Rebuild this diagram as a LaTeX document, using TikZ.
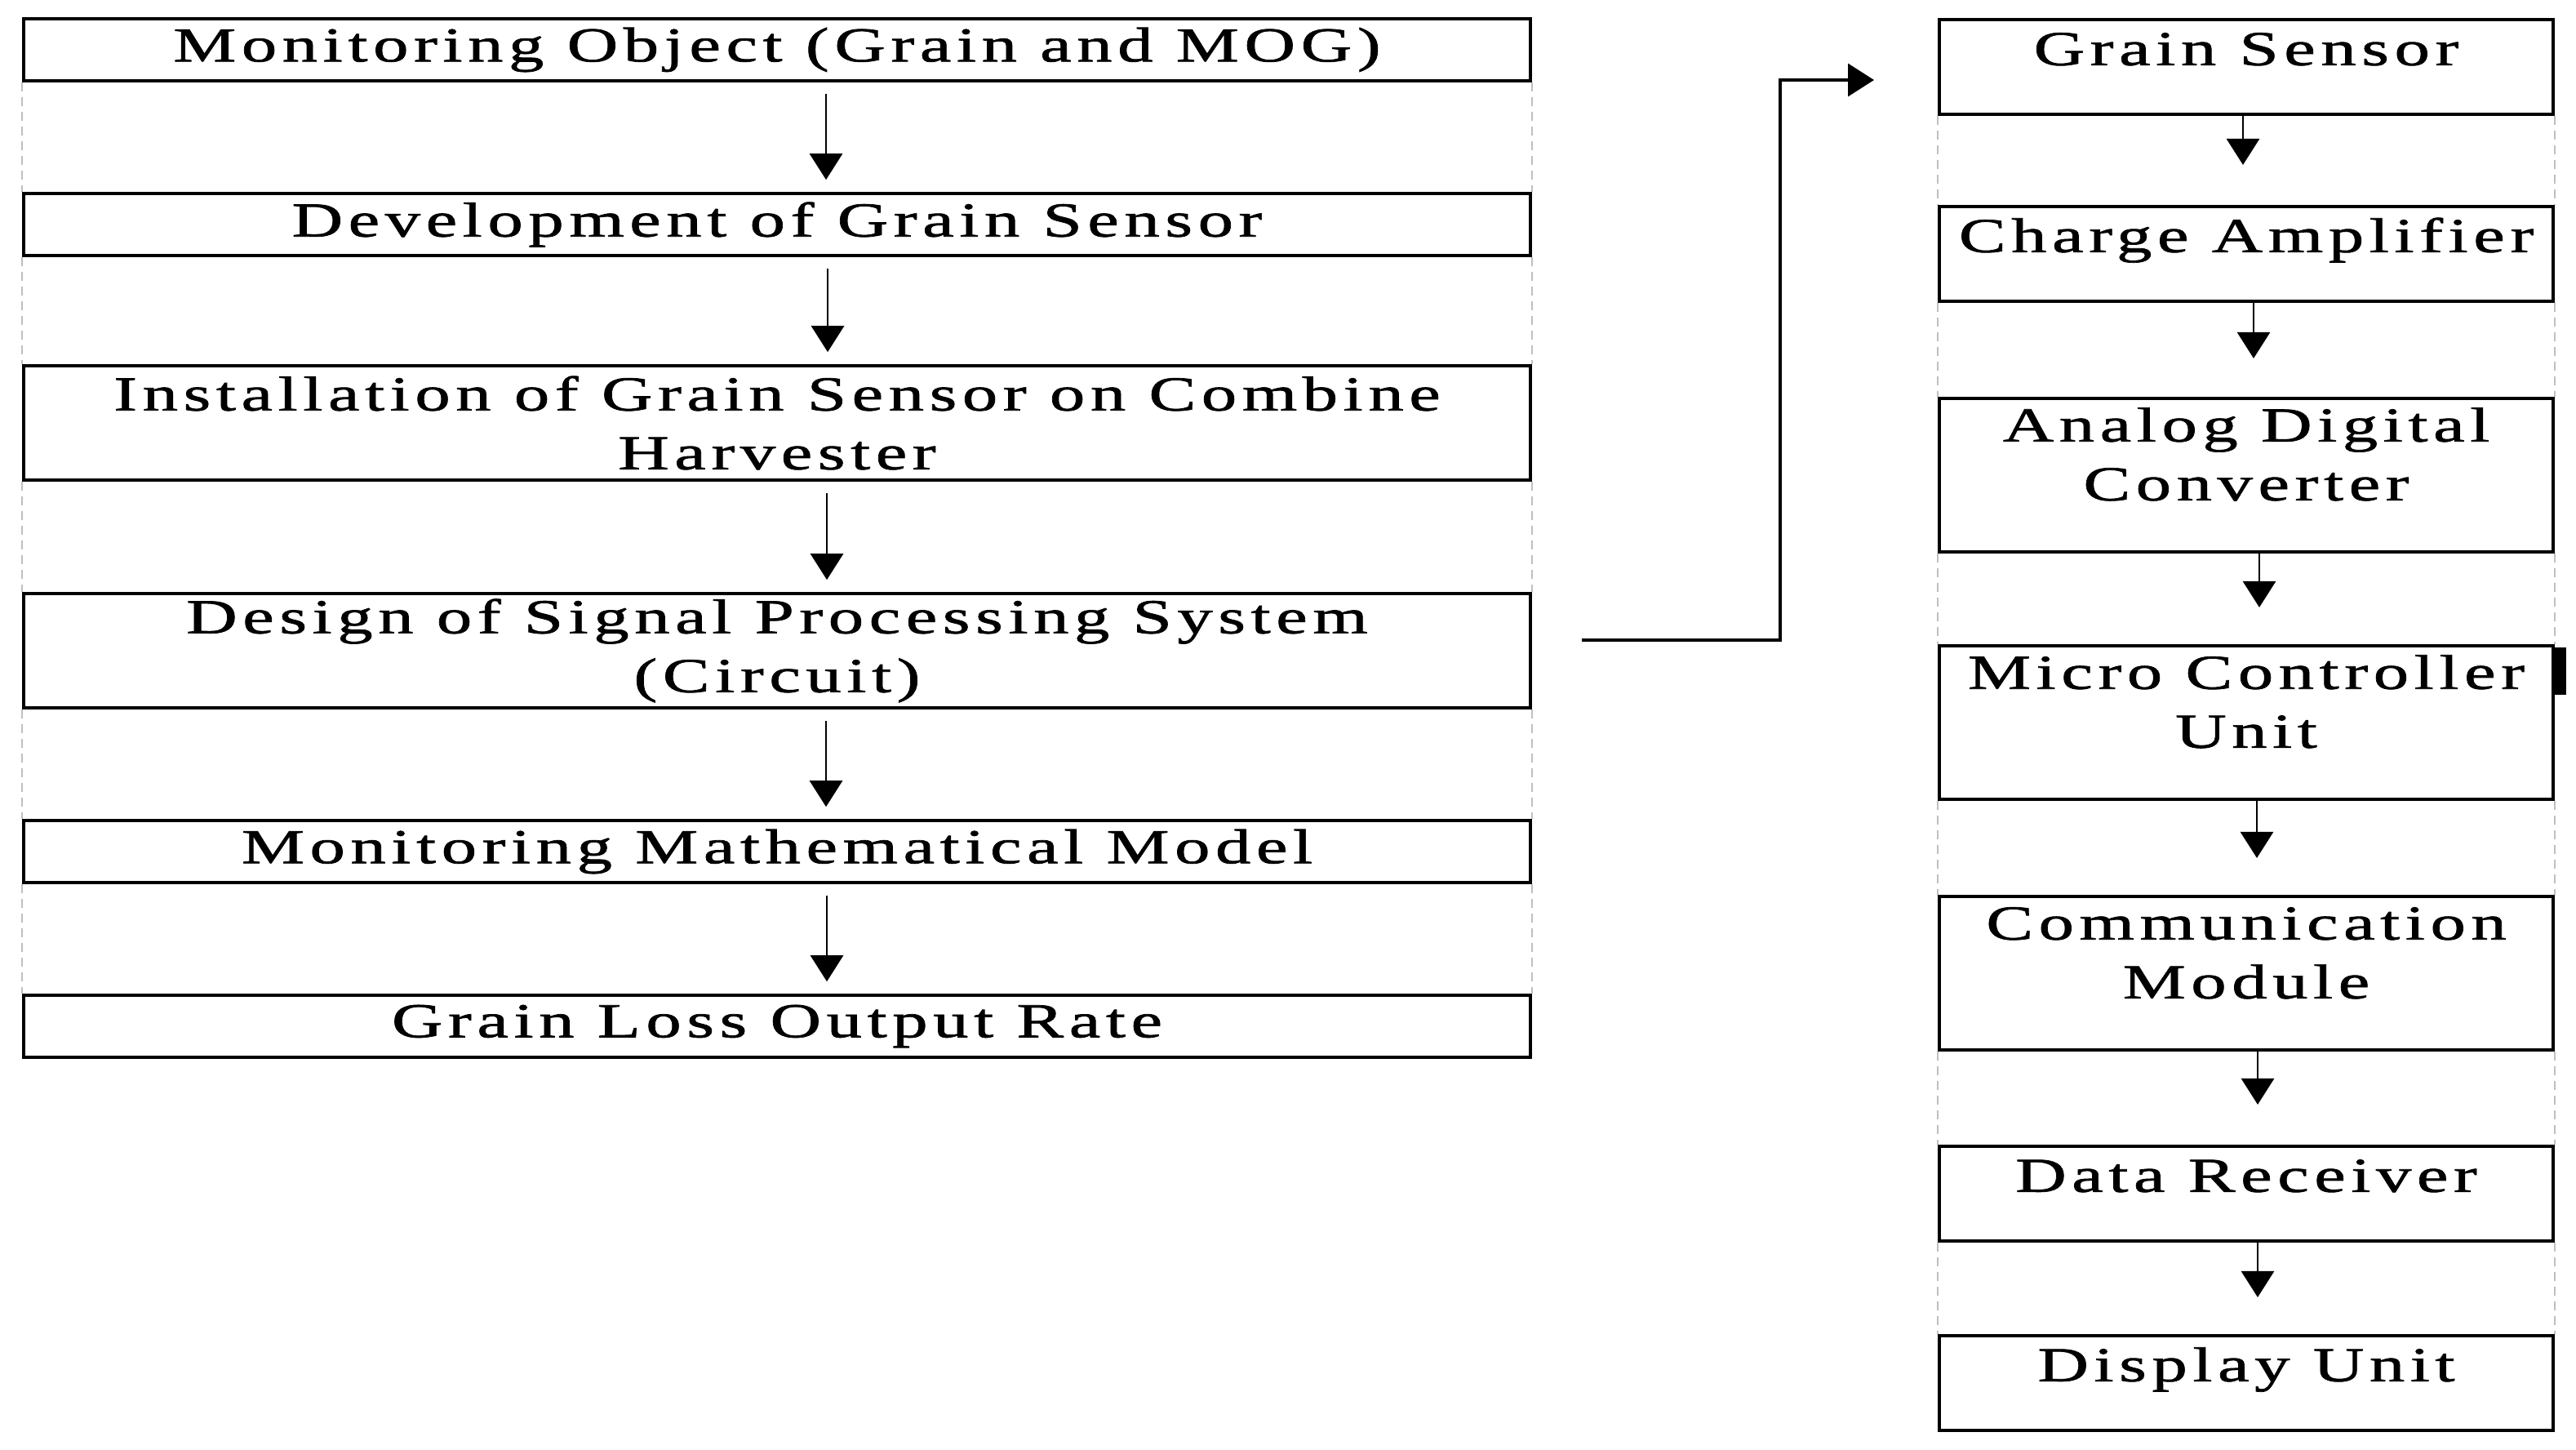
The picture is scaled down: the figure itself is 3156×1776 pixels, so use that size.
\documentclass[tikz,border=0pt]{standalone}
\usepackage{fontspec}
\setmainfont{Liberation Serif}[FakeStretch=1.45,LetterSpace=11,FakeBold=1.2]
\usetikzlibrary{arrows.meta}

\begin{document}
\begin{tikzpicture}[x=0.01cm,y=-0.01cm,line width=0.8pt,
>={Triangle[length=0.32cm,width=0.4cm]},
font=\fontsize{17}{20.5}\selectfont,
stage/.style={draw,rectangle,line width=1pt,minimum width=18.45cm,minimum height=0.76cm,inner sep=0pt,align=center},
stagetall/.style={stage,minimum height=1.4cm},
unit/.style={draw,rectangle,line width=1pt,anchor=north,minimum width=7.52cm,inner sep=0pt,align=center,text height=0.56cm,text depth=0.6cm},
unittall/.style={unit,text height=1.25cm,text depth=0.63cm},
guide/.style={draw=black!25,line width=0.6pt,dash pattern=on 0.11cm off 0.07cm}]
\useasboundingbox (0,0) rectangle (3156,1776);

% left column
\draw (952,61) node[stage] (obj) {Monitoring Object (Grain and MOG)};
\draw (952,275) node[stage] (dev) {Development of Grain Sensor};
\draw (952,518) node[stagetall] (inst) {Installation of Grain Sensor on Combine\\Harvester};
\draw (952,797) node[stagetall] (sig) {Design of Signal Processing System\\(Circuit)};
\draw (952,1043) node[stage] (model) {Monitoring Mathematical Model};
\draw (952,1257) node[stage] (rate) {Grain Loss Output Rate};
\draw[guide] (obj.south west) -- (dev.north west) (dev.south west) -- (inst.north west)
  (inst.south west) -- (sig.north west) (sig.south west) -- (model.north west)
  (model.south west) -- (rate.north west);
\draw[guide] (obj.south east) -- (dev.north east) (dev.south east) -- (inst.north east)
  (inst.south east) -- (sig.north east) (sig.south east) -- (model.north east)
  (model.south east) -- (rate.north east);
\draw[->] ([xshift=0.6cm,yshift=-0.14cm]obj.south) -- ([xshift=0.6cm,yshift=0.15cm]dev.north);
\draw[->] ([xshift=0.62cm,yshift=-0.14cm]dev.south) -- ([xshift=0.62cm,yshift=0.15cm]inst.north);
\draw[->] ([xshift=0.61cm,yshift=-0.14cm]inst.south) -- ([xshift=0.61cm,yshift=0.15cm]sig.north);
\draw[->] ([xshift=0.6cm,yshift=-0.14cm]sig.south) -- ([xshift=0.6cm,yshift=0.15cm]model.north);
\draw[->] ([xshift=0.61cm,yshift=-0.14cm]model.south) -- ([xshift=0.61cm,yshift=0.15cm]rate.north);

% right column
\draw (2752,22) node[unit] (sensor) {Grain Sensor};
\draw (2752,251) node[unit] (amp) {Charge Amplifier};
\draw (2752,486) node[unittall] (adc) {Analog Digital\\Converter};
\draw (2752,789) node[unittall] (mcu) {Micro Controller\\Unit};
\draw (2752,1096) node[unittall] (comm) {Communication\\Module};
\draw (2752,1402) node[unit] (recv) {Data Receiver};
\draw (2752,1634) node[unit] (disp) {Display Unit};
\draw[guide] (sensor.south west) -- (amp.north west) (amp.south west) -- (adc.north west)
  (adc.south west) -- (mcu.north west) (mcu.south west) -- (comm.north west)
  (comm.south west) -- (recv.north west) (recv.south west) -- (disp.north west);
\draw[guide] (sensor.south east) -- (amp.north east) (amp.south east) -- (adc.north east)
  (adc.south east) -- (mcu.north east) (mcu.south east) -- (comm.north east)
  (comm.south east) -- (recv.north east) (recv.south east) -- (disp.north east);
\draw[->] ([xshift=-0.04cm]sensor.south) -- ([xshift=-0.04cm,yshift=0.49cm]amp.north);
\draw[->] ([xshift=0.09cm]amp.south) -- ([xshift=0.09cm,yshift=0.47cm]adc.north);
\draw[->] ([xshift=0.16cm]adc.south) -- ([xshift=0.16cm,yshift=0.45cm]mcu.north);
\draw[->] ([xshift=0.13cm]mcu.south) -- ([xshift=0.13cm,yshift=0.45cm]comm.north);
\draw[->] ([xshift=0.14cm]comm.south) -- ([xshift=0.14cm,yshift=0.49cm]recv.north);
\draw[->] ([xshift=0.14cm]recv.south) -- ([xshift=0.14cm,yshift=0.45cm]disp.north);
\fill ([yshift=-0.04cm]mcu.north east) rectangle ++(14,58);

% link between the columns
\coordinate (tap) at (1938,784);
\coordinate (feed) at (2296,98);
\draw[->,line width=1pt] (tap) -- ++(243,0) |- (feed);

\end{tikzpicture}
\end{document}
